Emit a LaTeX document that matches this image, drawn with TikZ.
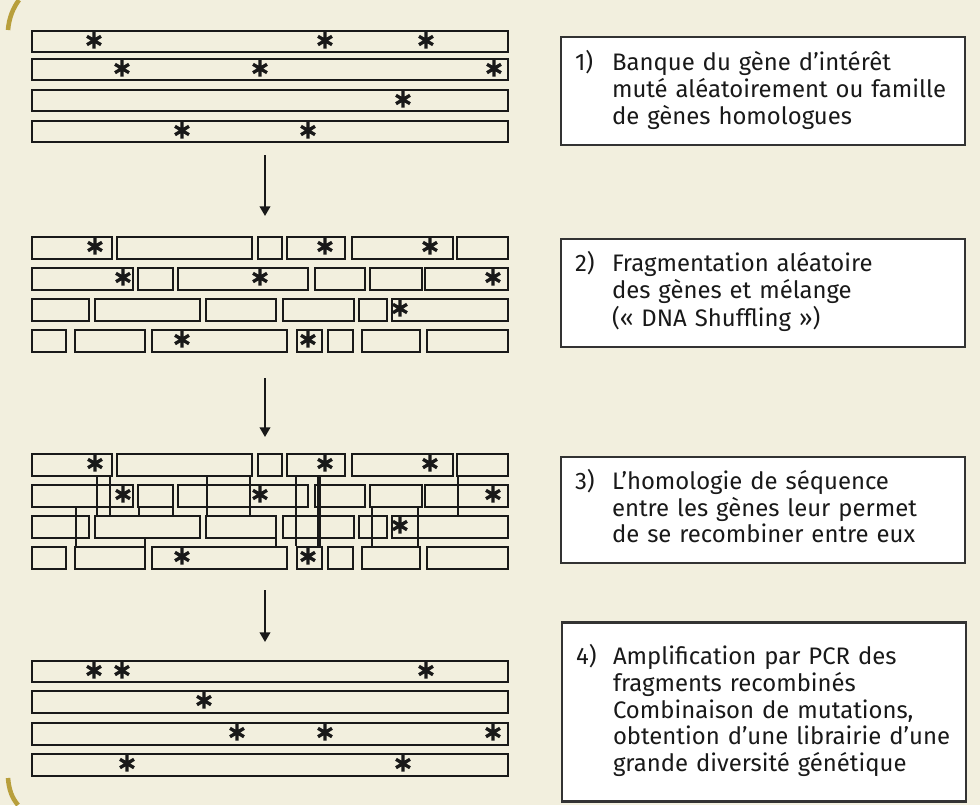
\documentclass[tikz,border=0pt]{standalone}
\usepackage{fontspec}
\setmainfont{Fira Sans}
\usetikzlibrary{arrows.meta}
\definecolor{colpanel}{HTML}{F2EFDE}
\definecolor{colframe}{HTML}{B89F3C}
\definecolor{colbox}{HTML}{333333}
\tikzset{
    gene/.style={draw=black!90, line width=1.5pt},
    frag/.style={gene},
    link/.style={draw=black!90, line width=1pt},
    flow/.style={-{Triangle[length=5.5pt, width=6pt]}, line width=1.2pt,
        draw=black!90},
    stepbox/.style={draw=colbox, line width=1.2pt, fill=white,
        minimum width=8.08cm, text width=7.52cm, inner xsep=0.28cm,
        align=left, text=black!90, font=\fontsize{13.6}{14.9}\selectfont},
    frame edge/.style={draw=colframe, line width=2.6pt},
    mutation/.pic={\draw[line width=1.9pt, black!90]
        (0,-9) -- (0,8) (-7,-4.2) -- (7,4.2) (-7,4.2) -- (7,-4.2);},
}

\begin{document}
\begin{tikzpicture}[x=0.02cm, y=-0.02cm]

\useasboundingbox (0,0) rectangle (980,805);
\fill[colpanel] (0,0) rectangle (980,805);
\draw[frame edge] (19,0) .. controls (13,8) and (9,18) .. (8,30);
\draw[frame edge] (8,778) .. controls (9,790) and (12,798) .. (18,805);

% ===== STEP 1: GENE LIBRARY =====
\draw[gene] (32,31) rectangle (508,52);
\draw[gene] (32,59) rectangle (508,80);
\draw[gene] (32,90) rectangle (508,111);
\draw[gene] (32,121) rectangle (508,142);
\foreach \x in {94, 325, 426} \pic at (\x,40.5) {mutation};
\foreach \x in {122, 260, 494} \pic at (\x,68.5) {mutation};
\foreach \x in {403} \pic at (\x,99.5) {mutation};
\foreach \x in {182, 308} \pic at (\x,130.5) {mutation};

% ===== STEPS 2-3: FRAGMENTS =====
\foreach \dy in {0, 217} {
    \foreach \a/\b in {32/112, 117/252, 258/282, 287/345, 352/453, 457/508}
        \draw[frag] (\a,237+\dy) rectangle (\b,259+\dy);
    \foreach \a/\b in {32/133, 138/173, 178/308, 315/365, 370/422, 425/508}
        \draw[frag] (\a,268+\dy) rectangle (\b,290+\dy);
    \foreach \a/\b in {32/89, 95/200, 206/276, 283/354, 359/387, 392/508}
        \draw[frag] (\a,299+\dy) rectangle (\b,321+\dy);
    \foreach \a/\b in {32/66, 75/145, 152/287, 297/322, 328/353, 362/420, 427/508}
        \draw[frag] (\a,330+\dy) rectangle (\b,352+\dy);
    \foreach \x in {95, 325, 430} \pic at (\x,246.5+\dy) {mutation};
    \foreach \x in {123, 260, 493} \pic at (\x,277.5+\dy) {mutation};
    \foreach \x in {400} \pic at (\x,308.5+\dy) {mutation};
    \foreach \x in {182, 308} \pic at (\x,339.5+\dy) {mutation};
}

% homologous pairing
\foreach \x/\ya/\yb in {97/475/516, 110/475/516, 207/475/516, 250/475/516,
        458/475/516, 296/475/546, 76/506/546, 139/506/516, 173/506/516,
        372/506/546, 418/506/546, 145/537/546, 276/537/546}
    \draw[link] (\x,\ya) -- (\x,\yb);
\draw[link, line width=1.8pt] (319,475) -- (319,546);

% ===== STEP 4: RECOMBINED GENES =====
\draw[gene] (32,661) rectangle (508,682);
\draw[gene] (32,691) rectangle (508,713);
\draw[gene] (32,723) rectangle (508,745);
\draw[gene] (32,754) rectangle (508,776);
\foreach \x in {94, 122, 426} \pic at (\x,670.5) {mutation};
\foreach \x in {204} \pic at (\x,700.5) {mutation};
\foreach \x in {237, 325, 493} \pic at (\x,732.5) {mutation};
\foreach \x in {127, 403} \pic at (\x,763.5) {mutation};

% ===== ARROWS =====
\coordinate (lib out) at (265,155);
\coordinate (frag in) at (265,216);
\coordinate (frag out) at (265,378);
\coordinate (rec in) at (265,437);
\coordinate (rec out) at (265,590);
\coordinate (amp in) at (265,642);
\draw[flow] (lib out) -- (frag in);
\draw[flow] (frag out) -- (rec in);
\draw[flow] (rec out) -- (amp in);

% ===== STEP BOXES =====
\node[stepbox, minimum height=2.16cm] (step1) at (763,91) {%
    \begin{tabular}{@{}p{0.74cm}@{}l@{}}
    1) & Banque du gène d’intérêt\\
       & muté aléatoirement ou famille\\
       & de gènes homologues
    \end{tabular}};
\node[stepbox, minimum height=2.16cm] (step2) at (763,293) {%
    \begin{tabular}{@{}p{0.74cm}@{}l@{}}
    2) & Fragmentation aléatoire\\
       & des gènes et mélange\\
       & (« DNA Shuffling »)
    \end{tabular}};
\node[stepbox, minimum height=2.12cm] (step3) at (763,510) {%
    \begin{tabular}{@{}p{0.74cm}@{}l@{}}
    3) & L’homologie de séquence\\
       & entre les gènes leur permet\\
       & de se recombiner entre eux
    \end{tabular}};
\node[stepbox, minimum height=3.58cm] (step4) at (764,712) {%
    \begin{tabular}{@{}p{0.74cm}@{}l@{}}
    4) & Amplification par PCR des\\
       & fragments recombinés\\
       & Combinaison de mutations,\\
       & obtention d’une librairie d’une\\
       & grande diversité génétique
    \end{tabular}};

\end{tikzpicture}
\end{document}
